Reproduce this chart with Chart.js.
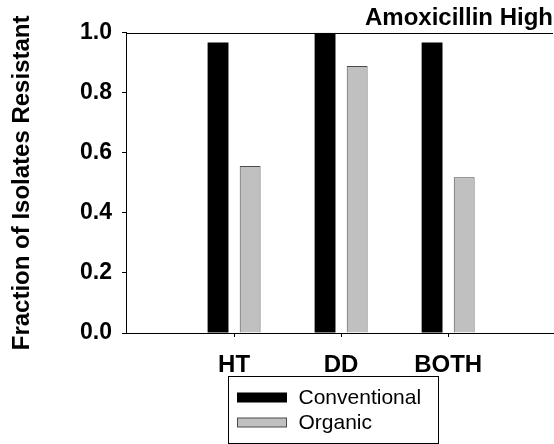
<!DOCTYPE html>
<html>
<head>
<meta charset="utf-8">
<script src="https://cdn.jsdelivr.net/npm/chart.js@4.4.1/dist/chart.umd.min.js"></script>
<style>
  html, body { margin: 0; padding: 0; background: #fff; }
  #wrap { width: 554px; height: 444px; }
</style>
</head>
<body>
<div id="wrap"><canvas id="chart" width="554" height="444"></canvas></div>
<script>
// data
const categories = ['HT', 'DD', 'BOTH'];
const catPositions = [1, 2, 3];
const conventional = [0.968, 1.0, 0.968];
const organic = [0.556, 0.889, 0.519];
const yTicks = [0, 0.2, 0.4, 0.6, 0.8, 1.0];

const FONT = '"Liberation Sans", Arial, sans-serif';

const toPoints = (vals) => vals.map((v, i) => ({ x: catPositions[i], y: v }));

// top frame line, category tick marks and boxed legend under the axis
const framePlugin = {
    id: 'frame',
    afterDraw(chart) {
        const ctx = chart.ctx;
        const area = chart.chartArea;
        const xScale = chart.scales.x;
        ctx.save();
        ctx.strokeStyle = '#000';
        ctx.lineWidth = 1;
        ctx.beginPath();
        ctx.moveTo(area.left, Math.round(area.top) + 0.5);
        ctx.lineTo(area.right, Math.round(area.top) + 0.5);
        // short outward ticks under each category
        catPositions.forEach(p => {
            const px = Math.round(xScale.getPixelForValue(p)) + 0.5;
            ctx.moveTo(px, area.bottom);
            ctx.lineTo(px, area.bottom + 4);
        });
        ctx.stroke();

        // legend box
        const bx = Math.round(area.left + 102) + 0.5;
        const by = Math.round(area.bottom + 43) + 0.5;
        const bw = 210, bh = 67;
        ctx.strokeRect(bx, by, bw, bh);
        ctx.font = '21px ' + FONT;
        ctx.textBaseline = 'middle';
        ctx.textAlign = 'left';
        chart.data.datasets.forEach((ds, i) => {
            const cy = by + 21 + i * 25;
            ctx.fillStyle = ds.backgroundColor;
            ctx.fillRect(bx + 9, cy - 4.5, 49, 9);
            ctx.strokeStyle = ds.borderColor;
            ctx.lineWidth = 1;
            ctx.strokeRect(bx + 9, cy - 4.5, 49, 9);
            ctx.fillStyle = '#000';
            ctx.fillText(ds.label, bx + 70, cy + 1);
        });
        ctx.restore();
    }
};

const ctx = document.getElementById('chart').getContext('2d');
new Chart(ctx, {
    type: 'bar',
    data: {
        datasets: [
            {
                label: 'Conventional',
                data: toPoints(conventional),
                backgroundColor: '#000000',
                borderColor: '#000000',
                borderWidth: 0
            },
            {
                label: 'Organic',
                data: toPoints(organic),
                backgroundColor: '#c0c0c0',
                borderColor: '#4a4a4a',
                borderWidth: 1
            }
        ]
    },
    options: {
        responsive: false,
        animation: false,
        devicePixelRatio: 1,
        categoryPercentage: 0.6,
        barPercentage: 0.65,
        layout: { padding: { top: 0, right: 1, bottom: 0, left: 0 } },
        scales: {
            x: {
                type: 'linear',
                min: -0.01,
                max: 3.98,
                offset: false,
                afterFit: (scale) => { scale.height = 111; },
                afterBuildTicks: (scale) => { scale.ticks = catPositions.map(v => ({ value: v })); },
                grid: {
                    offset: false,
                    drawOnChartArea: false,
                    tickLength: 4,
                    tickColor: '#000',
                    color: '#000'
                },
                border: { color: '#000', width: 1 },
                ticks: {
                    color: '#000',
                    padding: 14,
                    maxRotation: 0,
                    autoSkip: false,
                    callback: (v) => categories[catPositions.indexOf(v)] ?? '',
                    font: { family: FONT, size: 24, weight: 'bold' }
                }
            },
            y: {
                min: 0,
                max: 1,
                afterFit: (scale) => { scale.width = 126; },
                afterBuildTicks: (scale) => { scale.ticks = yTicks.map(v => ({ value: v })); },
                grid: { drawOnChartArea: false, tickLength: 4, color: '#000' },
                border: { color: '#000', width: 1 },
                ticks: {
                    color: '#000',
                    padding: 10,
                    callback: (v) => Number(v).toFixed(1),
                    font: { family: FONT, size: 23, weight: 'bold' }
                },
                title: {
                    display: true,
                    text: 'Fraction of Isolates Resistant',
                    color: '#000',
                    padding: { top: 8, bottom: 0 },
                    font: { family: FONT, size: 24, weight: 'bold' }
                }
            }
        },
        plugins: {
            legend: { display: false },
            tooltip: { enabled: false },
            title: {
                display: true,
                text: 'Amoxicillin High',
                align: 'end',
                color: '#000',
                padding: { top: 4, bottom: 0 },
                font: { family: FONT, size: 24, weight: 'bold' }
            }
        }
    },
    plugins: [framePlugin]
});
</script>
</body>
</html>
